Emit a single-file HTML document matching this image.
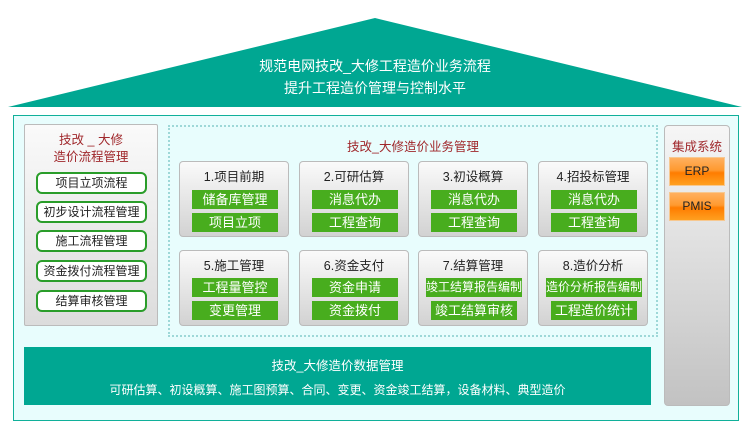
<!DOCTYPE html>
<html><head><meta charset="utf-8"><style>
*{margin:0;padding:0;box-sizing:border-box}
body{width:750px;height:448px;background:#fff;position:relative;overflow:hidden;font-family:"Liberation Sans","Noto Sans CJK SC",sans-serif;font-size:12px}
.a{position:absolute}
.main{left:13px;top:115px;width:726px;height:306px;border:1px solid #10b09a;background:#e8fdfd}
.lp{left:24px;top:124px;width:134px;height:202px;border:1px solid #bbb;border-radius:2px;background:linear-gradient(#fafafa,#dcdcdc)}
.lb{left:36px;width:111px;height:22px;border:2px solid #2a9d2a;border-radius:6px;background:#fff;text-align:center;line-height:18px;color:#222;font-size:12px}
.dot{left:168px;top:125px;width:490px;height:212px;border:2px dotted #9ed8d8}
.card{width:110px;height:76px;border:1px solid #bbb;border-radius:4px;background:linear-gradient(#fafafa,#d2d2d2)}
.card .t{position:absolute;top:4px;left:0;width:100%;text-align:center;color:#222;font-size:12.5px}
.g{position:absolute;left:12px;width:86px;height:19px;background:#48ad1e;color:#fff;text-align:center;line-height:19px;font-size:13px}
.rp{left:664px;top:125px;width:66px;height:281px;border:1px solid #bbb;border-radius:4px;background:linear-gradient(#f6f6f6,#c2c2c2)}
.o{left:669px;width:56px;height:29px;background:linear-gradient(#ffb060 0%,#ff9a30 45%,#ff7c00 55%,#ffa020 100%);border:1px solid #f7c890;text-align:center;line-height:27px;color:#222;font-size:12px}
.bot{left:24px;top:347px;width:627px;height:58px;background:#00a792;color:#fff;text-align:center}
</style></head><body>
<svg class="a" style="left:0;top:0" width="750" height="110"><polygon points="8,107 375,18 742,107" fill="#00a792"/></svg>
<div class="a" style="left:0;top:55px;width:750px;text-align:center;color:#fff;font-size:14px;line-height:22px">规范电网技改_大修工程造价业务流程<br>提升工程造价管理与控制水平</div>
<div class="a main"></div>
<div class="a lp"></div>
<div class="a" style="left:24px;top:132px;width:134px;text-align:center;color:#a0282c;font-size:12.5px;line-height:17px">技改 _ 大修<br>造价流程管理</div>
<div class="a lb" style="top:172px">项目立项流程</div>
<div class="a lb" style="top:201px">初步设计流程管理</div>
<div class="a lb" style="top:230px">施工流程管理</div>
<div class="a lb" style="top:260px">资金拨付流程管理</div>
<div class="a lb" style="top:290px">结算审核管理</div>
<div class="a dot"></div>
<div class="a" style="left:168px;top:136px;width:490px;text-align:center;color:#a0282c;font-size:12.5px">技改_大修造价业务管理</div>

<div class="a card" style="left:179px;top:161px"><div class="t">1.项目前期</div><div class="g" style="top:28px">储备库管理</div><div class="g" style="top:51px">项目立项</div></div>
<div class="a card" style="left:299px;top:161px"><div class="t">2.可研估算</div><div class="g" style="top:28px">消息代办</div><div class="g" style="top:51px">工程查询</div></div>
<div class="a card" style="left:418px;top:161px"><div class="t">3.初设概算</div><div class="g" style="top:28px">消息代办</div><div class="g" style="top:51px">工程查询</div></div>
<div class="a card" style="left:538px;top:161px"><div class="t">4.招投标管理</div><div class="g" style="top:28px">消息代办</div><div class="g" style="top:51px">工程查询</div></div>
<div class="a card" style="left:179px;top:250px"><div class="t">5.施工管理</div><div class="g" style="top:27px">工程量管控</div><div class="g" style="top:50px">变更管理</div></div>
<div class="a card" style="left:299px;top:250px"><div class="t">6.资金支付</div><div class="g" style="top:27px">资金申请</div><div class="g" style="top:50px">资金拨付</div></div>
<div class="a card" style="left:418px;top:250px"><div class="t">7.结算管理</div><div class="g" style="top:27px;left:7px;width:96px;font-size:12px">竣工结算报告编制</div><div class="g" style="top:50px">竣工结算审核</div></div>
<div class="a card" style="left:538px;top:250px"><div class="t">8.造价分析</div><div class="g" style="top:27px;left:7px;width:96px;font-size:12px">造价分析报告编制</div><div class="g" style="top:50px">工程造价统计</div></div>

<div class="a rp"></div>
<div class="a" style="left:664px;top:136px;width:66px;text-align:center;color:#a0282c;font-size:12.5px">集成系统</div>
<div class="a o" style="top:157px">ERP</div>
<div class="a o" style="top:192px">PMIS</div>

<div class="a bot"><div style="margin-top:8px;font-size:12.5px">技改_大修造价数据管理</div><div style="margin-top:7px;font-size:12px">可研估算、初设概算、施工图预算、合同、变更、资金竣工结算，设备材料、典型造价</div></div>
</body></html>
